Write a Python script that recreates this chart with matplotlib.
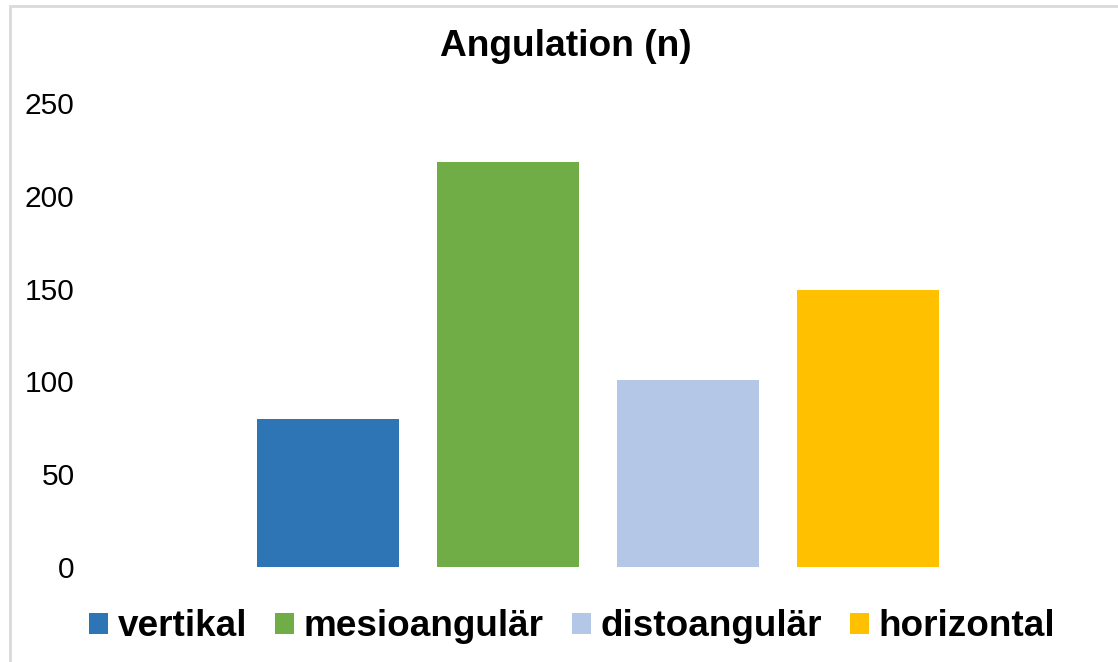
import matplotlib.pyplot as plt
from matplotlib.patches import Rectangle

plt.rcParams['font.family'] = ['Liberation Sans', 'DejaVu Sans']

# Anzahl je Angulationstyp
categories = ['vertikal', 'mesioangulär', 'distoangulär', 'horizontal']
counts = [80, 218, 101, 149]
colors = ['#2E75B6', '#70AD47', '#B4C7E7', '#FFC000']
yticks = [0, 50, 100, 150, 200, 250]

fig = plt.figure(figsize=(11.18, 6.62), dpi=100)
ax = fig.add_axes([80 / 1118, 95 / 662, 1038 / 1118, 464 / 662])

bars = []
for i, (name, val, col) in enumerate(zip(categories, counts, colors)):
    bars.append(ax.bar(i, val, width=0.79, color=col, label=name))

ax.set_xlim(-1.378, 4.389)
ax.set_ylim(0, 250)
ax.set_yticks(yticks)
ax.set_xticks([])
ax.tick_params(axis='y', length=0, pad=4, labelsize=21.5)
for s in ax.spines.values():
    s.set_visible(False)

fig.text(566 / 1118, 1 - 47 / 662, 'Angulation (n)', ha='center', va='center',
         fontsize=26.7, fontweight='bold')

leg = fig.legend(handles=bars, labels=categories, loc='center',
                 bbox_to_anchor=(572 / 1118, 1 - 627 / 662), ncol=4,
                 frameon=False, handlelength=0.52, handleheight=0.52,
                 handletextpad=0.25, columnspacing=0.76,
                 prop={'size': 26.6, 'weight': 'bold'})

# grauer Rahmen um das Diagramm
fig.patches.append(Rectangle((9.5 / 1118, -0.1), 1.2, 1 - 5.5 / 662 + 0.1,
                             transform=fig.transFigure, fill=False,
                             edgecolor='#D9D9D9', linewidth=2))

fig.savefig('out.png', dpi=100)
